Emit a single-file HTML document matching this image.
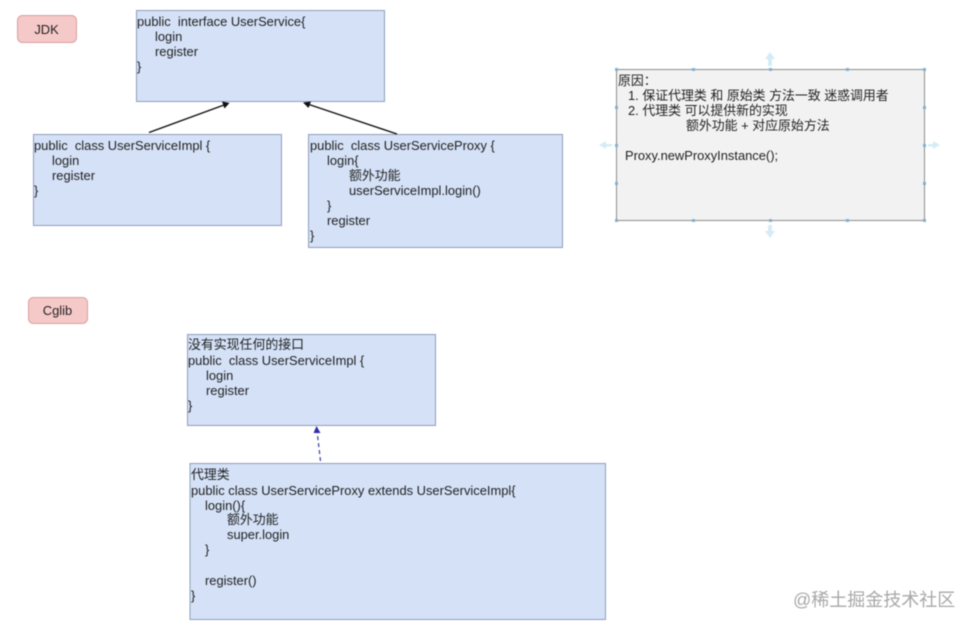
<!DOCTYPE html>
<html><head><meta charset="utf-8"><style>
html,body{margin:0;padding:0;background:#fff}
svg{display:block;filter:blur(.45px)}
text{font-family:"Liberation Sans","Noto Sans CJK SC",sans-serif;font-size:12.9px;fill:#222;white-space:pre}
.b{fill:#d4e1f7;stroke:#8f9fbc;stroke-width:1}
.r{fill:#f6c9c9;stroke:#dba0a0;stroke-width:1}
.h{fill:#7fb2d6}
.g{fill:#d5ecf6}
</style></head><body>
<svg width="973" height="630" viewBox="0 0 973 630" xmlns="http://www.w3.org/2000/svg">
<rect width="973" height="630" fill="#fff"/>
<rect class="r" x="17.5" y="15.5" width="59" height="27" rx="5"/>
<text x="46.5" y="34" text-anchor="middle">JDK</text>
<rect class="r" x="28.5" y="297.5" width="59" height="26" rx="5"/>
<text x="57.5" y="315" text-anchor="middle">Cglib</text>

<rect class="b" x="136.5" y="10.5" width="248" height="91"/>
<text x="137" y="26">public  interface UserService{</text>
<text x="155" y="41">login</text>
<text x="155" y="56">register</text>
<text x="137" y="71">}</text>

<rect class="b" x="33.5" y="134.5" width="248" height="91"/>
<text x="34" y="150">public  class UserServiceImpl {</text>
<text x="52" y="165">login</text>
<text x="52" y="180">register</text>
<text x="34" y="195">}</text>

<rect class="b" x="308.5" y="134.5" width="254" height="113"/>
<text x="310" y="150">public  class UserServiceProxy {</text>
<text x="327" y="165">login{</text>
<text x="349" y="180">额外功能</text>
<text x="349" y="195">userServiceImpl.login()</text>
<text x="327" y="210">}</text>
<text x="327" y="225">register</text>
<text x="310" y="240">}</text>

<line x1="149" y1="132.5" x2="224" y2="105" stroke="#111" stroke-width="1.4"/>
<polygon points="229.500,103 222,101.500 224.500,108.500" fill="#111"/>
<line x1="397" y1="134" x2="309" y2="104.500" stroke="#111" stroke-width="1.4"/>
<polygon points="303,102.500 311,101.500 308.500,108" fill="#111"/>

<rect x="616.5" y="69.500" width="308" height="151" fill="#f2f2f2" stroke="#8c8c8c"/>
<g class="h">
<rect x="615" y="68" width="3" height="3"/><rect x="692" y="68" width="3" height="3"/><rect x="769" y="68" width="3" height="3"/><rect x="846" y="68" width="3" height="3"/><rect x="923" y="68" width="3" height="3"/>
<rect x="615" y="219" width="3" height="3"/><rect x="692" y="219" width="3" height="3"/><rect x="769" y="219" width="3" height="3"/><rect x="846" y="219" width="3" height="3"/><rect x="923" y="219" width="3" height="3"/>
<rect x="615" y="106" width="3" height="3"/><rect x="615" y="144" width="3" height="3"/><rect x="615" y="182" width="3" height="3"/>
<rect x="923" y="106" width="3" height="3"/><rect x="923" y="144" width="3" height="3"/><rect x="923" y="182" width="3" height="3"/>
</g>
<g class="g">
<polygon points="770,52 775,59 772,59 772,66 768,66 768,59 765,59"/>
<polygon points="770,238 775,231 772,231 772,225 768,225 768,231 765,231"/>
<polygon points="599,145 606,141 606,144 612,144 612,146.500 606,146.500 606,149"/>
<polygon points="940,145 933,141 933,144 928,144 928,146.500 933,146.500 933,149"/>
</g>
<text x="618" y="85">原因：</text>
<text x="628" y="100">1. 保证代理类 和 原始类 方法一致 迷惑调用者</text>
<text x="628" y="115">2. 代理类 可以提供新的实现</text>
<text x="686" y="130">额外功能 + 对应原始方法</text>
<text x="625" y="160">Proxy.newProxyInstance();</text>

<rect class="b" x="187.500" y="334.500" width="248" height="91"/>
<text x="188" y="349">没有实现任何的接口</text>
<text x="188" y="365">public  class UserServiceImpl {</text>
<text x="206" y="380">login</text>
<text x="206" y="395">register</text>
<text x="188" y="410">}</text>

<rect class="b" x="190" y="463.500" width="415.500" height="156"/>
<text x="191" y="479">代理类</text>
<text x="191" y="495">public class UserServiceProxy extends UserServiceImpl{</text>
<text x="205" y="510">login(){</text>
<text x="227" y="524">额外功能</text>
<text x="227" y="539">super.login</text>
<text x="205" y="554">}</text>
<text x="205" y="585">register()</text>
<text x="191" y="600">}</text>

<line x1="320.500" y1="461" x2="317" y2="431" stroke="#3a3a9a" stroke-width="1.2" stroke-dasharray="4 3"/>
<polygon points="316.500,426 320.500,433 313.500,433" fill="#2f2fa8"/>

<text x="793" y="606" style="font-size:18px;fill:#a8a8a8">@稀土掘金技术社区</text>
</svg>
</body></html>
